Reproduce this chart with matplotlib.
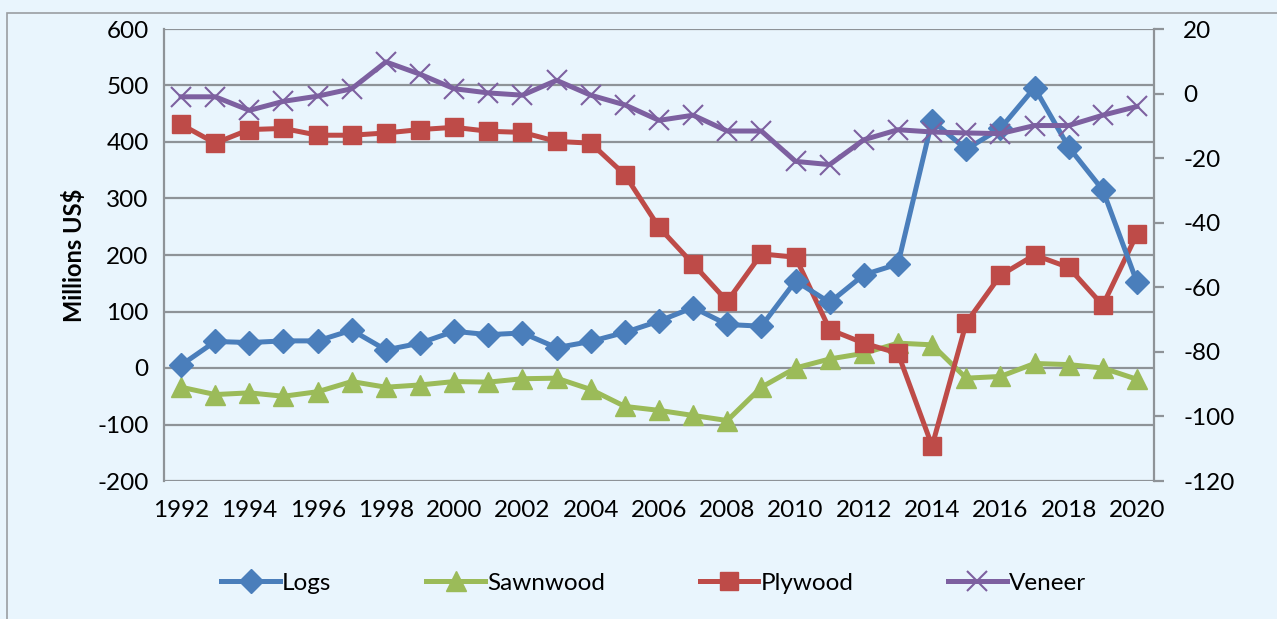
import numpy as np
import matplotlib.pyplot as plt
from matplotlib.patches import Rectangle

plt.rcParams["axes.unicode_minus"] = False

years = list(range(1992, 2021))

# left axis (Millions US$)
logs = [5, 47, 45, 48, 48, 67, 32, 44, 65, 59, 62, 36, 47, 63,
        83, 107, 77, 74, 154, 116, 165, 184, 438, 387, 424, 496, 391, 315, 152]
sawnwood = [-34, -47, -44, -50, -42, -24, -34, -30, -24, -25, -19, -18, -38, -68,
            -75, -84, -93, -34, 0, 16, 26, 44, 41, -18, -15, 8, 6, 0, -20]
plywood = [431, 398, 422, 424, 412, 412, 416, 422, 426, 419, 417, 401, 398, 342,
           249, 184, 118, 202, 196, 68, 44, 26, -138, 80, 164, 200, 178, 111, 237]
# right axis
veneer = [-1, -1, -5.2, -2.4, -0.8, 1.5, 9.8, 6, 1.5, 0.2, -0.5, 4.1, -0.5, -3.5,
          -8.3, -6.7, -11.6, -11.6, -21, -22, -14.3, -11.2, -11.9, -12.2, -12.4, -9.9, -9.9, -6.7, -4]

bg = "#E9F5FD"
grid_c = "#8E9398"
fnt = "Lato"
fs = 17.5

fig = plt.figure(figsize=(12.77, 6.19), dpi=100, facecolor=bg)
fig.patches.append(Rectangle((7 / 1277, -0.01), 1.0, 1 - 13 / 619 + 0.01, transform=fig.transFigure,
                             fill=False, edgecolor="#9A9EA2", linewidth=1.2))

ax = fig.add_axes([164 / 1277, 138 / 619, 990 / 1277, 452 / 619])
ax.set_facecolor(bg)
ax2 = ax.twinx()

lw = 3.6
ax.plot(years, logs, color="#4A7EBB", lw=lw, marker="D", ms=12, label="Logs", zorder=4)
ax.plot(years, sawnwood, color="#9BBB59", lw=lw, marker="^", ms=14, label="Sawnwood", zorder=3)
ax.plot(years, plywood, color="#BE4B48", lw=lw, marker="s", ms=12.5, label="Plywood", zorder=3)
ax2.plot(years, veneer, color="#7D60A0", lw=lw, marker="x", ms=14, mew=1.5, label="Veneer")

ax.set_xlim(1991.5, 2020.5)
ax.set_ylim(-200, 600)
ax.set_yticks(np.arange(-200, 601, 100))
ax2.set_ylim(-120, 20)
ax2.set_yticks(np.arange(-120, 21, 20))
ax.set_xticks(years[::2])

ax.grid(axis="y", color=grid_c, lw=1.6)
ax.set_axisbelow(True)
for sp in ["left", "right", "bottom", "top"]:
    ax.spines[sp].set_visible(False)
    ax2.spines[sp].set_visible(False)
ax.spines["left"].set_visible(True)
ax.spines["left"].set_color(grid_c)
ax.spines["left"].set_linewidth(1.6)
ax2.spines["right"].set_visible(True)
ax2.spines["right"].set_color(grid_c)
ax2.spines["right"].set_linewidth(1.6)

ax.tick_params(axis="y", length=0, pad=11, labelsize=fs)
ax.tick_params(axis="x", length=0, pad=14, labelsize=fs)
ax2.tick_params(axis="y", length=7, width=1.6, color=grid_c, pad=14, labelsize=fs)
for lab in ax.get_xticklabels() + ax.get_yticklabels() + ax2.get_yticklabels():
    lab.set_fontfamily(fnt)

ax.set_ylabel("Millions US$", fontsize=17, fontweight="bold", family=fnt, labelpad=8)

h1, l1 = ax.get_legend_handles_labels()
h2, l2 = ax2.get_legend_handles_labels()
fig.legend(h1 + h2, l1 + l2, loc="center", bbox_to_anchor=(0.512, 36 / 619), ncol=4,
           frameon=False, handlelength=2.4, columnspacing=3.9, handletextpad=0.1,
           prop={"family": fnt, "size": fs})

fig.savefig("out.png", dpi=100, facecolor=bg)
